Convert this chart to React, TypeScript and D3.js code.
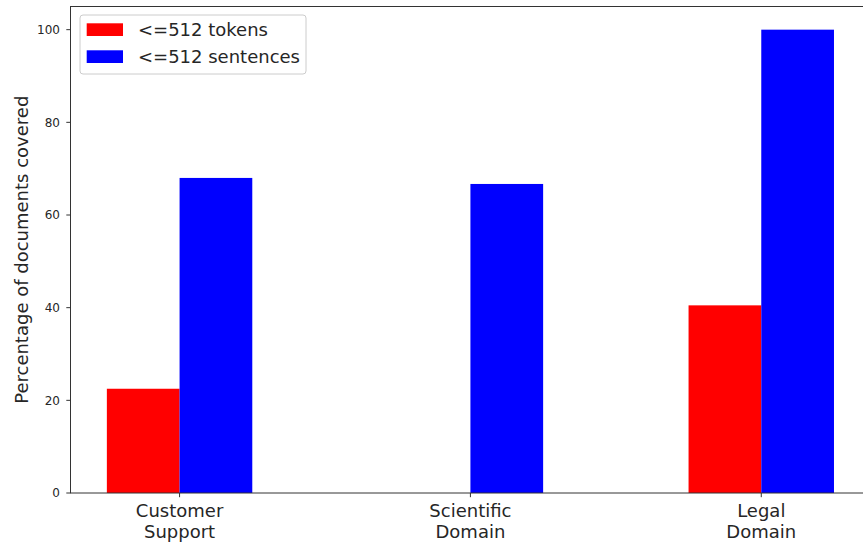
import React from "react";
import * as d3 from "d3";

const categories = ["Customer\nSupport", "Scientific\nDomain", "Legal\nDomain"];
const seriesNames = ["<=512 tokens", "<=512 sentences"];
const tokensValues = [22.5, 0, 40.5];
const sentencesValues = [68.0, 66.7, 100];
const seriesColors = ["#ff0000", "#0000ff"];
const yTicks = [0, 20, 40, 60, 80, 100];

const W = 863;
const H = 544;
const left = 70.5;
const top = 6.5;
const bottom = 493;
const barWidth = 0.25;

export default function App() {
  const unit = (761 - 179.3) / 2;
  const right = left + 2.75 * unit;
  const x = d3.scaleLinear().domain([-0.375, 2.375]).range([left, right]);
  const y = d3.scaleLinear().domain([0, 105]).range([bottom, top]);
  const series = [tokensValues, sentencesValues];
  const font = "'DejaVu Sans', sans-serif";
  const textColor = "#262626";

  return (
    <div style={{ position: "fixed", left: 0, top: 0, width: W, height: H, background: "#fff" }}>
      <svg width={W} height={H} style={{ display: "block" }} fontFamily={font}>
        <rect x={0} y={0} width={W} height={H} fill="#fff" />
        {series.map((vals, si) =>
          vals.map((v, i) => {
            const x0 = x(i + (si === 0 ? -barWidth : 0));
            const x1 = x(i + (si === 0 ? 0 : barWidth));
            return (
              <rect
                key={`${si}-${i}`}
                x={x0}
                y={y(v)}
                width={x1 - x0}
                height={y(0) - y(v)}
                fill={seriesColors[si]}
              />
            );
          })
        )}
        {/* spines */}
        <rect x={left} y={top} width={right - left} height={bottom - top} fill="none" stroke="#333" strokeWidth={1} />
        {/* y ticks */}
        {yTicks.map((t) => (
          <g key={t}>
            <line x1={left - 4.2} x2={left} y1={y(t)} y2={y(t)} stroke="#333" strokeWidth={1} />
            <text x={left - 10.5} y={y(t)} dy="0.35em" textAnchor="end" fontSize={12} fill={textColor}>
              {t}
            </text>
          </g>
        ))}
        {/* x ticks */}
        {categories.map((c, i) => (
          <g key={c}>
            <line x1={x(i)} x2={x(i)} y1={bottom} y2={bottom + 4.2} stroke="#333" strokeWidth={1} />
            {c.split("\n").map((line, li) => (
              <text
                key={li}
                x={x(i)}
                y={bottom + 24 + li * 21}
                textAnchor="middle"
                fontSize={18}
                fill={textColor}
              >
                {line}
              </text>
            ))}
          </g>
        ))}
        {/* y label */}
        <text
          transform={`translate(28, ${(top + bottom) / 2}) rotate(-90)`}
          textAnchor="middle"
          fontSize={18}
          fill={textColor}
        >
          Percentage of documents covered
        </text>
        {/* legend */}
        <rect x={80} y={15} width={226} height={59} rx={3} fill="#fff" fillOpacity={0.8} stroke="#ccc" strokeWidth={1} />
        {seriesNames.map((n, i) => (
          <g key={n}>
            <rect x={86.7} y={23.3 + i * 27} width={36.3} height={12.7} fill={seriesColors[i]} />
            <text x={138} y={36 + i * 27} fontSize={18} fill={textColor}>
              {n}
            </text>
          </g>
        ))}
      </svg>
    </div>
  );
}
